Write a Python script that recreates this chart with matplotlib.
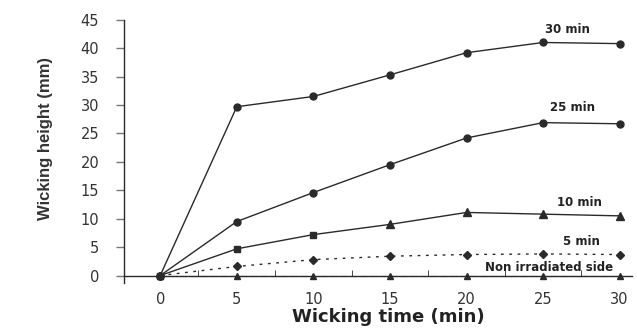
import matplotlib.pyplot as plt

# wicking time (min)
time = [0, 5, 10, 15, 20, 25, 30]

# wicking height (mm) for each irradiation time
h30 = [0, 29.7, 31.5, 35.3, 39.2, 41.0, 40.8]
h25 = [0, 9.5, 14.6, 19.5, 24.2, 26.9, 26.7]
h10 = [0, 4.7, 7.2, 9.0, 11.1, 10.8, 10.5]
h5 = [0, 1.6, 2.8, 3.4, 3.7, 3.8, 3.7]
h0 = [0, 0, 0, 0, 0, 0, 0]

labels = ['30 min', '25 min', '10 min', '5 min', 'Non irradiated side']
label_x = [26.6, 26.9, 27.4, 27.5, 25.4]
label_y = [43.3, 29.5, 12.8, 6.0, 1.4]

fig = plt.figure(figsize=(6.37, 3.29), dpi=100)
ax = fig.add_axes([0.195, 0.14, 0.797, 0.80])

lc = '#2a2a2a'
ax.plot(time, h30, '-o', color=lc, lw=1.0, ms=5)
ax.plot(time, h25, '-o', color=lc, lw=1.0, ms=5)
ax.plot(time, h10, '-', color=lc, lw=1.0)
ax.plot(time[:3], h10[:3], 's', color=lc, ms=5)
ax.plot(time[3:], h10[3:], '^', color=lc, ms=6)
ax.plot(time, h5, 'D', ls=(0, (2, 4)), color=lc, lw=1.0, ms=4)
ax.plot(time, h0, '^', ls=(0, (6, 3)), color=lc, lw=0.8, ms=5)

for t, x, y in zip(labels, label_x, label_y):
    ax.text(x, y, t, ha='center', va='center', fontsize=8.5,
            fontweight='bold', color='#222222')

ax.set_xlim(-2.35, 30.8)
ax.set_ylim(-1.3, 45)
ax.spines['top'].set_visible(False)
ax.spines['right'].set_visible(False)
ax.spines['bottom'].set_position(('data', 0))
for s in ['left', 'bottom']:
    ax.spines[s].set_color(lc)
    ax.spines[s].set_linewidth(1.0)

ax.set_xticks(time)
ax.set_xticks([2.5, 7.5, 12.5, 17.5, 22.5, 27.5], minor=True)
ax.tick_params(axis='x', which='major', length=0, pad=12, labelsize=10.5,
               labelcolor='#333333')
ax.tick_params(axis='x', which='minor', length=4, direction='in', color=lc)
ax.set_yticks(range(0, 50, 5))
ax.tick_params(axis='y', length=6, width=1, color='#777777', pad=12,
               labelsize=10.5, labelcolor='#333333')

ax.set_ylabel('Wicking height (mm)', fontsize=12, fontweight='bold',
              family='Liberation Sans', color='#333333')
ax.yaxis.set_label_coords(-0.14, 0.55)
fig.text(0.61, 0.035, 'Wicking time (min)', ha='center', va='center',
         fontsize=13, fontweight='bold', color='#222222')

fig.savefig('out.png', dpi=100)
